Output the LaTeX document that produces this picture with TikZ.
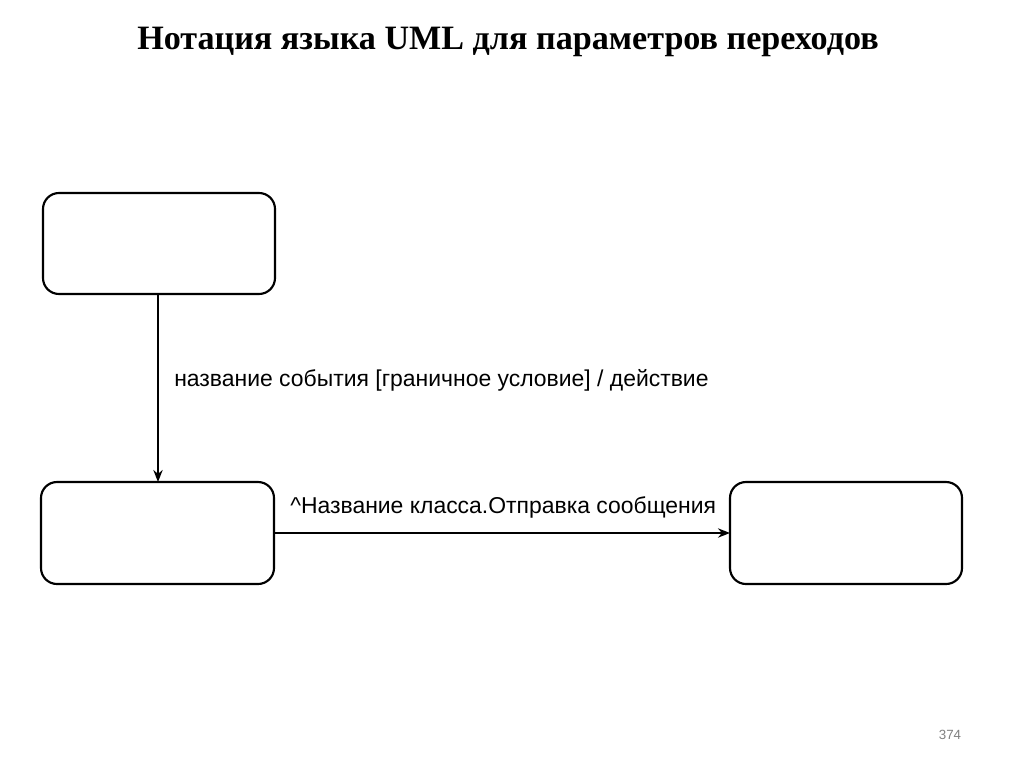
\documentclass[tikz,border=0pt]{standalone}
\usepackage{fontspec}
\setmainfont{Liberation Serif}
\setsansfont{Liberation Sans}
\usetikzlibrary{arrows.meta}
\begin{document}
\begin{tikzpicture}[x=0.75pt,y=-0.75pt,
  state/.style={draw,line width=1.6pt,rounded corners=12pt},
  conn/.style={line width=1.4pt,-{Stealth[length=9pt,width=7pt]}},
  lbl/.style={font=\sffamily\fontsize{17.2}{20}\selectfont,anchor=west,inner sep=0pt}]
\useasboundingbox (0,0) rectangle (1024,767);
\node[font=\bfseries\fontsize{25.6}{30}\selectfont] (title) at (508,42) {Нотация языка UML для параметров переходов};
\draw[state] (43,193) rectangle (275,294);
\coordinate (s1b) at (158,294);
\draw[state] (41,482) rectangle (274,584);
\coordinate (s2t) at (158,482);
\coordinate (s2r) at (274,533);
\draw[state] (730,482) rectangle (962,584);
\coordinate (s3l) at (730,533);
\draw[conn] (s1b) -- (s2t);
\draw[conn] (s2r) -- (s3l);
\node[lbl] (l1) at (174,380) {название события [граничное условие] / действие};
\node[lbl] (l2) at (290,507) {\textasciicircum Название класса.Отправка сообщения};
\node[font=\sffamily\fontsize{10}{12}\selectfont,text=gray] (pg) at (950,735) {374};
\end{tikzpicture}
\end{document}
